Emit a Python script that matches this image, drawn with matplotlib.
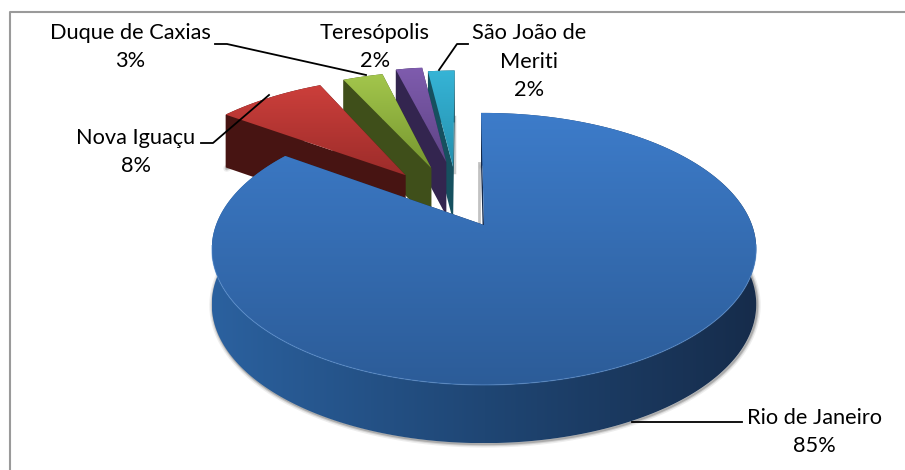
import numpy as np
import matplotlib
matplotlib.use("Agg")
import matplotlib.pyplot as plt
from matplotlib.patches import Polygon

# data
cities = ["Rio de Janeiro", "Nova Iguaçu", "Duque de Caxias", "Teresópolis", "São João de\nMeriti"]
shares = [85, 8, 3, 2, 2]
pct_labels = ["85%", "8%", "3%", "2%", "2%"]

# look of the slices
top_from = ["#3d7cca", "#cc3f3b", "#a3c64c", "#7f5cae", "#36b4d6"]
top_to = ["#2c5c98", "#9c2c2a", "#76962f", "#5f4486", "#2590ae"]
wall_colors = [["#2b619f", "#1f4674", "#162c4b"], ["#521714", "#471412", "#471412"],
               ["#3f4f1a", "#3f4f1a", "#3f4f1a"], ["#33254f", "#33254f", "#33254f"],
               ["#16505f", "#16505f", "#16505f"]]
# slices are pulled out of the pie by hand (plane coordinates)
pull_x = [0, -0.314, -0.213, -0.154, -0.125]
pull_y = [0, 0.405, 0.4675, 0.522, 0.477]

FIRST_ANGLE = -0.75
CX, CY, RX, RY, K = 484, 225, 268, 131.8, 0.176


def project(px, py):
    s = 1 / (1 + K * py)
    return CX + RX * px * s, CY - RY * py * s


def drop(py):
    return 40 + 15 / (1 + K * py)


def slice_outline(a0, a1, dx, dy):
    t = np.radians(np.linspace(a0, a1, 300))
    px = np.r_[dx, dx + np.sin(t)]
    py = np.r_[dy, dy + np.cos(t)]
    return px, py


def fill_gradient(ax, xy, z, c0, c1, vertical=True, c2=None):
    cols = [c0, c1] if c2 is None else [c0, c1, c2]
    rgb = np.array([matplotlib.colors.to_rgb(c) for c in cols])
    u = np.linspace(0, 1, 256)
    knots = np.linspace(0, 1, len(cols))
    grad = np.stack([np.interp(u, knots, rgb[:, i]) for i in range(3)], axis=-1)
    x0, x1, y0, y1 = xy[:, 0].min(), xy[:, 0].max(), xy[:, 1].min(), xy[:, 1].max()
    img = grad[:, None, :] if vertical else grad[None, :, :]
    im = ax.imshow(img, extent=(x0, x1, y1, y0), aspect="auto", interpolation="bilinear", zorder=z)
    im.set_clip_path(Polygon(xy, closed=True, transform=ax.transData))


fig = plt.figure(figsize=(9.05, 4.70), dpi=100)
ax = fig.add_axes([0, 0, 1, 1])
ax.set_xlim(0, 905)
ax.set_ylim(470, 0)
ax.axis("off")
plt.rcParams["font.family"] = ["Lato", "DejaVu Sans"]

# only the top and left of the chart border are in the picture
ax.plot([10, 10, 905], [470, 12, 12], color="#9a9a9a", lw=1.5, zorder=1)

# clockwise from 12 o'clock
ends = FIRST_ANGLE + np.cumsum(shares) / np.sum(shares) * 360
starts = np.r_[FIRST_ANGLE, ends[:-1]]

# painted from the back, the big slice covers the bases of the others
for order, i in enumerate([4, 3, 2, 1, 0]):
    z = 2 + order * 0.1
    px, py = slice_outline(starts[i], ends[i], pull_x[i], pull_y[i])
    sx, sy = project(px, py)
    d = drop(py)

    # soft shadow under the slice
    if i < 2:
        for w, a in ((5, 0.10), (3, 0.18), (1.5, 0.30)):
            ax.plot(sx[1:] + 1, sy[1:] + d[1:] + 1, color="#555555", lw=w, alpha=a, zorder=z, solid_capstyle="round")
    if i == 0:
        # grey shadow of the cuts
        ax.plot([478.5, 478.5], [163, 222], color="#9a9a9a", lw=2, alpha=0.6, zorder=z)
    if i == 4:
        ax.plot([454, 454], [117, 172], color="#9a9a9a", lw=2.5, alpha=0.5, zorder=z - 0.05)

    # rim wall
    rim = np.c_[np.r_[sx[1:], sx[1:][::-1]], np.r_[sy[1:], (sy + d)[1:][::-1]]]
    fill_gradient(ax, rim, z + 0.01, wall_colors[i][0], wall_colors[i][1], False, wall_colors[i][2])

    # cut walls
    for k in (1, -1):
        cut = [(sx[0], sy[0]), (sx[k], sy[k]), (sx[k], sy[k] + d[k]), (sx[0], sy[0] + d[0])]
        ax.add_patch(Polygon(cut, closed=True, fc=wall_colors[i][1] if i else "#14294a", ec="none", zorder=z + 0.02))

    # top face
    fill_gradient(ax, np.c_[sx, sy], z + 0.03, top_from[i], top_to[i])
    if i == 0:
        front = sy[1:] > 245
        ax.plot(sx[1:][front], sy[1:][front], color="#5b93d6", lw=0.9, alpha=0.45, zorder=z + 0.04)

# leader lines
lines = [([632, 742], [422, 422]),
         ([201, 213, 269], [143, 143, 95]),
         ([215, 227, 366], [44, 44, 75]),
         ([468, 457, 439], [44, 44, 70])]
for lx, ly in lines:
    ax.plot(lx, ly, color="black", lw=1.3, zorder=5)

# labels
label_x = [814, 136, 130, 375, 529]
label_y = [432, 152, 47, 47, 61.5]
for i in range(len(cities)):
    ax.text(label_x[i], label_y[i], cities[i] + "\n" + pct_labels[i], ha="center", va="center",
            fontsize=15.7, color="black", linespacing=1.56, zorder=6)

fig.savefig("out.png", dpi=100)
